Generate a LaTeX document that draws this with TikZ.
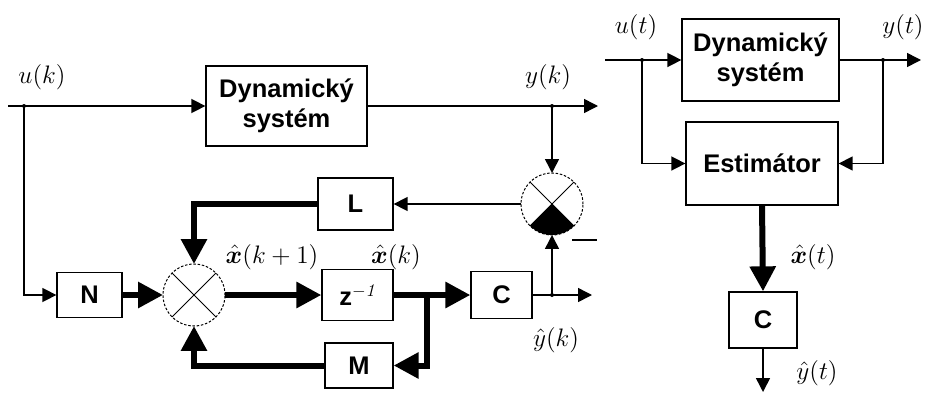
\documentclass[tikz,border=0pt]{standalone}
\usepackage{fontspec}
\setsansfont{Liberation Sans}
\usepackage{bm}
\usetikzlibrary{arrows.meta,positioning}

\begin{document}
\begin{tikzpicture}[x=0.02cm, y=-0.02cm,
    blk/.style={draw, line width=0.026cm, inner sep=0pt, align=center,
        font=\sffamily\bfseries\fontsize{14.5}{17}\selectfont},
    sumnode/.style={circle, draw, dash pattern=on 0.05cm off 0.035cm,
        line width=0.02cm, minimum size=1.24cm, inner sep=0pt, outer sep=0pt},
    sig/.style={line width=0.03cm, -{Triangle[length=0.28cm,width=0.28cm]}},
    vec/.style={line width=0.12cm, -{Triangle[length=0.5cm,width=0.5cm]}},
    lbl/.style={font=\fontsize{15}{17}\selectfont},
    dot/.style={fill, circle, inner sep=0pt, minimum size=0.08cm}]

    \useasboundingbox (0,0) rectangle (925,392);

    % discrete estimator
    \node[blk, minimum width=3.22cm, minimum height=1.6cm] (dyn1) at (286.5,106) {Dynamický\\systém};
    \node[blk, minimum width=1.5cm, minimum height=1.04cm] (L) at (355.5,204) {L};
    \node[blk, minimum width=1.3cm, minimum height=0.9cm] (N) at (89.5,295) {N};
    \node[blk, minimum width=1.42cm, minimum height=1.02cm] (z) at (357.5,295) {z$^{-\mathit{1}}$};
    \node[blk, minimum width=1.22cm, minimum height=0.94cm] (C) at (501.5,295) {C};
    \node[blk, minimum width=1.36cm, minimum height=0.9cm] (M) at (359,365.5) {M};
    \node[sumnode] (sum1) at (552,204) {};
    \node[sumnode] (sum2) at (194,295) {};

    \draw[line width=0.02cm] (sum1.45) -- (sum1.225) (sum1.135) -- (sum1.315);
    \fill (sum1.center) -- (sum1.-45) arc[start angle=-45, end angle=-135, radius=0.62cm] -- cycle;
    \draw[line width=0.02cm] (sum2.45) -- (sum2.225) (sum2.135) -- (sum2.315);

    \coordinate (uin) at (8,106);
    \node[dot] (uj) at (24,106) {};
    \draw[sig] (uin) -- (dyn1.west);
    \draw[sig] (uj.center) |- (N.west);

    \coordinate (yout) at (598,106);
    \node[dot] (yj) at (552,106) {};
    \draw[sig] (dyn1.east) -- (yout);
    \draw[sig] (yj.center) -- (sum1.north);
    \draw[sig] (sum1.west) -- (L.east);

    \draw[vec] (L.west) -| (sum2.north);
    \draw[vec] (N.east) -- (sum2.west);
    \draw[vec] (sum2.east) -- (z.west);
    \coordinate (br) at (427,295);
    \draw[line width=0.12cm] (z.east) -- (br);
    \draw[vec] (br) -- (C.west);
    \draw[vec] (br) |- (M.east);
    \draw[vec] (M.west) -| (sum2.south);

    \coordinate (yhout) at (592,295);
    \node[dot] (yhj) at (552,295) {};
    \draw[sig] (C.east) -- (yhout);
    \draw[sig] (yhj.center) -- (sum1.south);
    \draw[line width=0.04cm] (572,240) -- (597,240);

    \node[lbl] (lu1) at (42,77) {$u(k)$};
    \node[lbl] (ly1) at (548,77) {$y(k)$};
    \node[lbl] (lx1) at (272,257) {$\hat{\bm{x}}(k+1)$};
    \node[lbl] (lx2) at (396,257) {$\hat{\bm{x}}(k)$};
    \node[lbl] (lyh1) at (556,340) {$\hat{y}(k)$};

    % continuous estimator
    \node[blk, minimum width=3.14cm, minimum height=1.64cm] (dyn2) at (760.5,60) {Dynamický\\systém};
    \node[blk, minimum width=3.04cm, minimum height=1.66cm] (est) at (762,163.5) {Estimátor};
    \node[blk, minimum width=1.36cm, minimum height=1.12cm] (C2) at (763,320) {C};

    \coordinate (uin2) at (605,60);
    \node[dot] (uj2) at (642,60) {};
    \draw[sig] (uin2) -- (dyn2.west);
    \draw[sig] (uj2.center) |- (est.west);

    \coordinate (yout2) at (921,60);
    \node[dot] (yj2) at (883,60) {};
    \draw[sig] (dyn2.east) -- (yout2);
    \draw[sig] (yj2.center) |- (est.east);

    \draw[vec] (est.south) -- (C2.north);
    \coordinate (yhout2) at (763,392);
    \draw[sig] (C2.south) -- (yhout2);

    \node[lbl] (lu2) at (636,27) {$u(t)$};
    \node[lbl] (ly2) at (903,27) {$y(t)$};
    \node[lbl] (lx3) at (813,257) {$\hat{\bm{x}}(t)$};
    \node[lbl] (lyh2) at (817,373) {$\hat{y}(t)$};
\end{tikzpicture}
\end{document}
